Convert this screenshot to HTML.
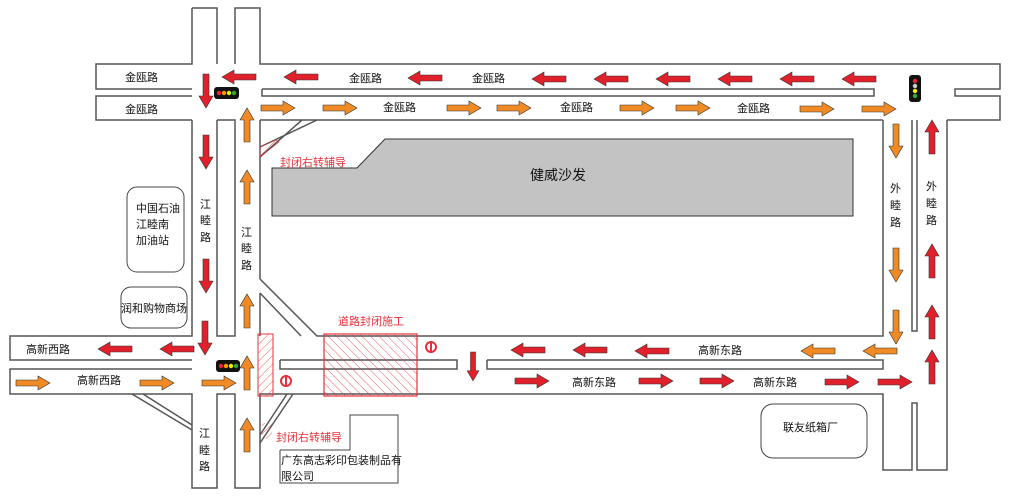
<!DOCTYPE html>
<html><head><meta charset="utf-8"><style>
html,body{margin:0;padding:0;background:#fff;width:1011px;height:500px;overflow:hidden}
text{font-family:"Liberation Sans","Noto Sans CJK SC",sans-serif;font-size:11px;fill:#111}
</style></head><body>
<svg width="1011" height="500" viewBox="0 0 1011 500" xmlns="http://www.w3.org/2000/svg">
<defs>
<path id="ar" d="M0,-3 L22,-3 L22,-7 L34,0 L22,7 L22,3 L0,3 Z"/>
<pattern id="h1" width="6" height="6" patternUnits="userSpaceOnUse" patternTransform="rotate(45)"><line x1="0" y1="0" x2="0" y2="6" stroke="#e8303a" stroke-width="0.8"/></pattern>
<pattern id="h2" width="6" height="6" patternUnits="userSpaceOnUse" patternTransform="rotate(-45)"><line x1="0" y1="0" x2="0" y2="6" stroke="#e8303a" stroke-width="0.8"/></pattern>
</defs>
<g fill="none" stroke="#555" stroke-width="1.5">
<polyline points="192,8 192,64 96,64 96,89 192,89"/>
<polyline points="192,120 96,120 96,96 192,96"/>
<polyline points="217,64 217,8 192,8"/>
<polyline points="235,64 235,8 260,8 260,64 1000,64 1000,89 955,89 955,96 1000,96 1000,120 947,120"/>
<polyline points="262,89 874,89 874,96 262,96 262,89"/>
<polyline points="260,120 883,120"/>
<polyline points="192,120 192,336 10,336 10,360 192,360"/>
<polyline points="217,120 217,336 235,336 235,120 217,120"/>
<polyline points="260,120 260,279"/>
<polyline points="260,279 317,336 883,336 883,120"/>
<polyline points="260,293 301,336"/>
<polyline points="260,293 260,336"/>
<polyline points="192,369 10,369 10,394 192,394 192,488 217,488 217,394 235,394 235,488 260,488 260,394 883,394 883,470 912,470 912,403 917,403 917,470 947,470 947,120"/>
<polyline points="912,120 912,331 917,331 917,120"/>
<polyline points="280,360 457,360 457,369 280,369 280,360"/>
<polyline points="487,360 883,360 883,369 487,369 487,360"/>
<polyline points="302,120 260,157"/><polyline points="317,120 260,147"/>
<polyline points="132,394 192,430"/><polyline points="143,394 192,425"/>
<polyline points="293,394 260,443"/><polyline points="287,394 260,435"/>
</g>
<polygon points="272,168 357,168 385,139 853,139 853,216 272,216" fill="#c3c3c3" stroke="#333" stroke-width="1"/>
<text x="530" y="180" style="font-size:14px">健威沙发</text>
<rect x="127" y="187" width="57" height="85" rx="10" fill="#fff" stroke="#444"/>
<text x="136" y="212">中国石油</text><text x="136" y="228">江睦南</text><text x="136" y="244">加油站</text>
<rect x="121" y="287" width="66" height="41" rx="10" fill="#fff" stroke="#444"/>
<text x="121" y="312">润和购物商场</text>
<rect x="761" y="404" width="106" height="54" rx="12" fill="#fff" stroke="#444"/>
<text x="783" y="431">联友纸箱厂</text>
<polyline points="280,450 350,450 350,415 398,415 398,483 280,483 280,450" fill="#fff" stroke="#444"/>
<text x="281" y="464">广东高志彩印包装制品有</text><text x="281" y="480">限公司</text>
<polygon points="260,147 276,140 279,142 260,157" fill="url(#h1)" stroke="#e8303a" stroke-width="0.6"/>
<rect x="262" y="423" width="10" height="16" fill="url(#h1)"/>
<rect x="258" y="334" width="15" height="62" fill="url(#h1)" stroke="#e8303a" stroke-width="1"/>
<rect x="324" y="334" width="93" height="62" fill="url(#h2)" stroke="#e8303a" stroke-width="1.2"/>
<text x="338" y="325" style="fill:#e8303a">道路封闭施工</text>
<text x="280" y="166" style="fill:#e8303a">封闭右转辅导</text>
<text x="276" y="441" style="fill:#e8303a">封闭右转辅导</text>
<g fill="none" stroke="#e8303a" stroke-width="2"><circle cx="431" cy="347" r="5"/><line x1="431" y1="341" x2="431" y2="353"/><circle cx="286" cy="381" r="5"/><line x1="286" y1="375" x2="286" y2="387"/></g>
<text x="125" y="81">金瓯路</text><text x="125" y="113">金瓯路</text>
<text x="349" y="82">金瓯路</text><text x="472" y="82">金瓯路</text>
<text x="383" y="111">金瓯路</text><text x="560" y="111">金瓯路</text><text x="737" y="112">金瓯路</text>
<text x="26" y="353">高新西路</text><text x="77" y="384">高新西路</text>
<text x="698" y="354">高新东路</text><text x="572" y="386">高新东路</text><text x="753" y="386">高新东路</text>
<g>
<text x="200" y="208">江</text><text x="200" y="224">睦</text><text x="200" y="241">路</text>
<text x="241" y="236">江</text><text x="241" y="252">睦</text><text x="241" y="269">路</text>
<text x="199" y="437">江</text><text x="199" y="454">睦</text><text x="199" y="470">路</text>
<text x="890" y="192">外</text><text x="890" y="209">睦</text><text x="890" y="226">路</text>
<text x="926" y="190">外</text><text x="926" y="207">睦</text><text x="926" y="224">路</text>
</g>
<g fill="#e0202a" stroke="#333" stroke-width="0.6">
<use href="#ar" transform="translate(256,77) rotate(180)"/>
<use href="#ar" transform="translate(318,77) rotate(180)"/>
<use href="#ar" transform="translate(442,78) rotate(180)"/>
<use href="#ar" transform="translate(566,79) rotate(180)"/>
<use href="#ar" transform="translate(628,79) rotate(180)"/>
<use href="#ar" transform="translate(690,79) rotate(180)"/>
<use href="#ar" transform="translate(752,79) rotate(180)"/>
<use href="#ar" transform="translate(814,79) rotate(180)"/>
<use href="#ar" transform="translate(876,79) rotate(180)"/>
<use href="#ar" transform="translate(206,74) rotate(90)"/>
<use href="#ar" transform="translate(206,135) rotate(90)"/>
<use href="#ar" transform="translate(206,259) rotate(90)"/>
<use href="#ar" transform="translate(205,321) rotate(90)"/>
<use href="#ar" transform="translate(473,352) rotate(90) scale(0.85)"/>
<use href="#ar" transform="translate(132,349) rotate(180)"/>
<use href="#ar" transform="translate(194,349) rotate(180)"/>
<use href="#ar" transform="translate(545,350) rotate(180)"/>
<use href="#ar" transform="translate(607,350) rotate(180)"/>
<use href="#ar" transform="translate(669,351) rotate(180)"/>
<use href="#ar" transform="translate(515,381)"/>
<use href="#ar" transform="translate(639,381)"/>
<use href="#ar" transform="translate(700,381)"/>
<use href="#ar" transform="translate(825,382)"/>
<use href="#ar" transform="translate(878,382)"/>
<use href="#ar" transform="translate(932,154) rotate(-90)"/>
<use href="#ar" transform="translate(932,278) rotate(-90)"/>
<use href="#ar" transform="translate(932,339) rotate(-90)"/>
<use href="#ar" transform="translate(932,384) rotate(-90)"/>
</g>
<g fill="#f08a24" stroke="#333" stroke-width="0.6">
<use href="#ar" transform="translate(261,108)"/>
<use href="#ar" transform="translate(323,108)"/>
<use href="#ar" transform="translate(447,108)"/>
<use href="#ar" transform="translate(497,108)"/>
<use href="#ar" transform="translate(620,108)"/>
<use href="#ar" transform="translate(676,108)"/>
<use href="#ar" transform="translate(800,109)"/>
<use href="#ar" transform="translate(862,109)"/>
<use href="#ar" transform="translate(247,142) rotate(-90)"/>
<use href="#ar" transform="translate(247,204) rotate(-90)"/>
<use href="#ar" transform="translate(247,328) rotate(-90)"/>
<use href="#ar" transform="translate(247,390) rotate(-90)"/>
<use href="#ar" transform="translate(247,452) rotate(-90)"/>
<use href="#ar" transform="translate(16,383)"/>
<use href="#ar" transform="translate(140,383)"/>
<use href="#ar" transform="translate(202,383)"/>
<use href="#ar" transform="translate(835,351) rotate(180)"/>
<use href="#ar" transform="translate(897,351) rotate(180)"/>
<use href="#ar" transform="translate(896,124) rotate(90)"/>
<use href="#ar" transform="translate(896,248) rotate(90)"/>
<use href="#ar" transform="translate(896,310) rotate(90)"/>
</g>
<g>
<rect x="214" y="87" width="25" height="12" rx="3" fill="#111"/>
<circle cx="219" cy="93" r="2.2" fill="#e23"/><circle cx="224" cy="93" r="2.2" fill="#f90"/><circle cx="229" cy="93" r="2.2" fill="#ee0"/><circle cx="234" cy="93" r="2.2" fill="#3a3"/>
<rect x="216" y="360" width="24" height="12" rx="3" fill="#111"/>
<circle cx="221" cy="366" r="2.2" fill="#e23"/><circle cx="226" cy="366" r="2.2" fill="#f90"/><circle cx="231" cy="366" r="2.2" fill="#ee0"/><circle cx="236" cy="366" r="2.2" fill="#3a3"/>
<rect x="909" y="75" width="12" height="27" rx="3" fill="#111"/>
<circle cx="915" cy="81" r="2.2" fill="#e23"/><circle cx="915" cy="86" r="2.2" fill="#ccc"/><circle cx="915" cy="91" r="2.2" fill="#ee0"/><circle cx="915" cy="96" r="2.2" fill="#3a3"/>
</g>
</svg>
</body></html>
